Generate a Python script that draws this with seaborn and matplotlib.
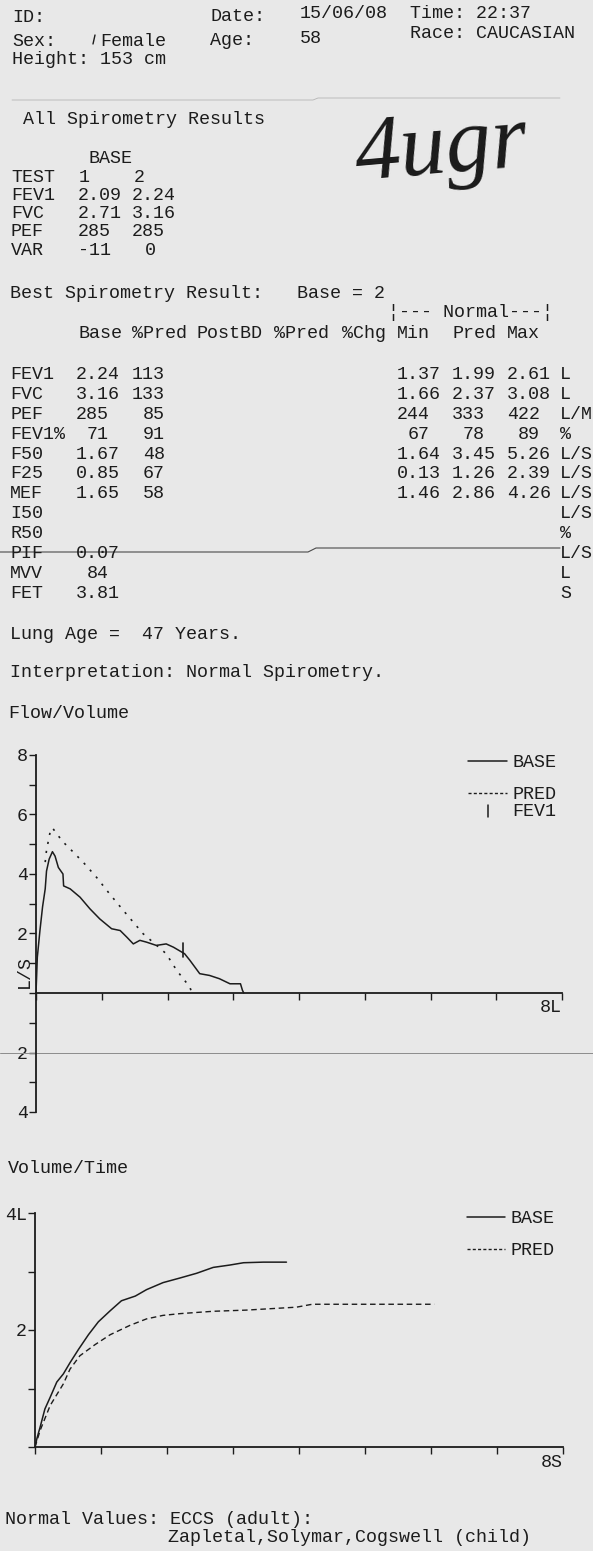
import numpy as np
import pandas as pd
import matplotlib
matplotlib.use("Agg")
import matplotlib.pyplot as plt
from matplotlib.transforms import blended_transform_factory
import seaborn as sns

# ------------------------------------------------------------------ report data
patient = {"date": "15/06/08", "time": "22:37", "sex": "Female", "age": "58",
           "race": "CAUCASIAN", "height": "153 cm"}

trial_rows = ["TEST", "FEV1", "FVC", "PEF", "VAR"]
trial_1 = ["1", "2.09", "2.71", "285", "-11"]
trial_2 = ["2", "2.24", "3.16", "285", "0"]

params = ["FEV1", "FVC", "PEF", "FEV1%", "F50", "F25", "MEF",
          "I50", "R50", "PIF", "MVV", "FET"]
base_vals = ["2.24", "3.16", "285", "71", "1.67", "0.85", "1.65",
             "", "", "0.07", "84", "3.81"]
base_pct_pred = ["113", "133", "85", "91", "48", "67", "58", "", "", "", "", ""]
normal_min = ["1.37", "1.66", "244", "67", "1.64", "0.13", "1.46", "", "", "", "", ""]
normal_pred = ["1.99", "2.37", "333", "78", "3.45", "1.26", "2.86", "", "", "", "", ""]
normal_max = ["2.61", "3.08", "422", "89", "5.26", "2.39", "4.26", "", "", "", "", ""]
units = ["L", "L", "L/M", "%", "L/S", "L/S", "L/S", "L/S", "%", "L/S", "L", "S"]

lung_age = 47
interpretation = "Normal Spirometry."

# flow / volume loop (L, L/s)
fv_base_volume = [0.00, 0.01, 0.02, 0.06, 0.10, 0.14, 0.16, 0.20, 0.25, 0.29, 0.34,
                  0.41, 0.42, 0.52, 0.67, 0.82, 0.97, 1.15, 1.28, 1.38, 1.48, 1.58,
                  1.68, 1.83, 1.98, 2.09, 2.26, 2.34, 2.49, 2.64, 2.79, 2.95, 3.11,
                  3.14, 3.16]
fv_base_flow = [0.00, 0.59, 1.20, 2.10, 2.90, 3.50, 4.10, 4.50, 4.75, 4.60, 4.22,
                4.00, 3.60, 3.50, 3.22, 2.83, 2.49, 2.16, 2.10, 1.88, 1.65, 1.77,
                1.71, 1.60, 1.65, 1.54, 1.32, 1.10, 0.65, 0.59, 0.48, 0.31, 0.31,
                0.09, 0.00]
fv_pred_volume = [0.14, 0.16, 0.22, 0.25, 0.34, 0.42, 0.52, 0.72, 0.92, 1.12, 1.33,
                  1.48, 1.63, 1.81, 1.98, 2.14, 2.34, 2.37]
fv_pred_flow = [4.40, 4.80, 5.47, 5.55, 5.28, 5.06, 4.84, 4.39, 3.89, 3.33, 2.77,
                2.38, 1.99, 1.65, 1.32, 0.76, 0.20, 0.00]
fev1_volume = 2.24

# volume / time curve (s, L)
vt_base_time = [0.00, 0.03, 0.08, 0.15, 0.23, 0.33, 0.43, 0.53, 0.66, 0.81, 0.96,
                1.14, 1.31, 1.52, 1.69, 1.94, 2.20, 2.45, 2.70, 2.95, 3.16, 3.46, 3.81]
vt_base_volume = [0.00, 0.15, 0.35, 0.65, 0.85, 1.11, 1.25, 1.44, 1.67, 1.92, 2.14,
                  2.33, 2.50, 2.58, 2.69, 2.81, 2.89, 2.97, 3.07, 3.11, 3.15, 3.16, 3.16]
vt_pred_time = [0.00, 0.08, 0.23, 0.43, 0.53, 0.68, 0.91, 1.14, 1.44, 1.69, 1.94,
                2.20, 2.70, 3.20, 3.96, 4.20, 6.05]
vt_pred_volume = [0.00, 0.29, 0.71, 1.08, 1.33, 1.56, 1.75, 1.92, 2.08, 2.19, 2.25,
                  2.28, 2.32, 2.34, 2.39, 2.44, 2.44]

# ------------------------------------------------------------------ page setup
W, H, DPI = 593, 1551, 100
PAPER = "#e8e8e8"
INK = "#1c1c1c"
FS = 13.2

sns.set_theme(style="ticks")
plt.rcParams["font.family"] = ["Liberation Mono", "DejaVu Sans Mono"]
plt.rcParams["axes.unicode_minus"] = False

fig = plt.figure(figsize=(W / DPI, H / DPI), dpi=DPI, facecolor=PAPER)
page = fig.add_axes([0, 0, 1, 1], zorder=0)
page.set_xlim(0, W)
page.set_ylim(H, 0)
page.axis("off")


def put(s, x, y, ha="left", **kw):
    """Printer text; y is the vertical centre of the capitals in pixels."""
    kw.setdefault("fontsize", FS)
    kw.setdefault("color", INK)
    page.text(x, y + 6, s, ha=ha, va="baseline", **kw)


# header block
put("ID:", 12, 16)
put("Sex:", 12, 40)
put(patient["sex"], 100, 40)
page.plot([95, 93], [35, 44], color=INK, lw=1.0)
put("Height: " + patient["height"], 12, 58)
put("Date:", 210, 15)
put(patient["date"], 300, 12)
put("Time: " + patient["time"], 410, 12)
put("Age:", 210, 39)
put(patient["age"], 300, 37)
put("Race: " + patient["race"], 410, 32)
page.plot([12, 313, 318, 560], [100, 100, 98, 98], color="#b4b4b4", lw=0.6)

# all trials
put("All Spirometry Results", 23, 118)
put("BASE", 88, 157)
trial_y = [176, 194, 212, 230, 249]
for lab, v1, v2, y in zip(trial_rows, trial_1, trial_2, trial_y):
    put(lab, 11, y)
    x1 = 78 if "." in v1 or len(v1) == 3 else (66 if v1.startswith("-") else 79)
    x2 = 132 if "." in v2 or len(v2) == 3 else (145 if v2 == "0" else 134)
    put(v1, x1, y)
    put(v2, x2, y)

# handwritten note
page.text(352, 180, "4ugr", fontfamily=["Liberation Serif"], style="italic",
          fontsize=66, color="#1a1a1a", va="baseline", rotation=5)

# best result table
put("Best Spirometry Result:", 10, 292)
put("Base = 2", 297, 292)
put("\u00a6--- Normal---\u00a6", 388, 311)
header = [("Base", 78), ("%Pred", 132), ("PostBD", 197), ("%Pred", 274),
          ("%Chg", 342), ("Min", 397), ("Pred", 452), ("Max", 507)]
for s, x in header:
    put(s, x, 332)

CH = 10.9


def put_num(s, col_x, y):
    if not s:
        return
    if "." in s:
        put(s, col_x, y)
    else:
        put(s, col_x + 3 * CH, y, ha="right")


for i, p in enumerate(params):
    y = 373 + 19.9 * i
    put(p, 10, y)
    put_num(base_vals[i], 76, y)
    if base_pct_pred[i]:
        put(base_pct_pred[i], 165, y, ha="right")
    put_num(normal_min[i], 397, y)
    put_num(normal_pred[i], 452, y)
    put_num(normal_max[i], 507, y)
    put(units[i], 560, y)
page.plot([0, 308, 316, 560], [552, 552, 548, 548], color="#4a4a4a", lw=0.8)

put(f"Lung Age =  {lung_age} Years.", 10, 633)
put("Interpretation: " + interpretation, 10, 671)
put("Flow/Volume", 8, 712)
put("Volume/Time", 8, 1167)
put("Normal Values: ECCS (adult):", 5, 1518)
put("Zapletal,Solymar,Cogswell (child)", 168, 1536)


# ------------------------------------------------------------------ charts
def px_axes(left, right, top, bottom):
    ax = fig.add_axes([left / W, 1 - bottom / H, (right - left) / W, (bottom - top) / H],
                      zorder=1)
    ax.set_facecolor("none")
    for side in ("top", "right"):
        ax.spines[side].set_visible(False)
    for side in ("left", "bottom"):
        ax.spines[side].set_color(INK)
        ax.spines[side].set_linewidth(1.3)
    ax.tick_params(axis="both", direction="out", length=5, width=1.0, color=INK,
                   labelsize=FS, labelcolor=INK, pad=1, left=True, bottom=True)
    return ax


# flow / volume
ax_fv = px_axes(36, 562, 755, 1112)
fv_base = pd.DataFrame({"volume": fv_base_volume, "flow": fv_base_flow})
fv_pred = pd.DataFrame({"volume": fv_pred_volume, "flow": fv_pred_flow})
sns.lineplot(data=fv_base, x="volume", y="flow", sort=False, estimator=None,
             color=INK, lw=1.1, ax=ax_fv)
sns.lineplot(data=fv_pred, x="volume", y="flow", sort=False, estimator=None,
             color=INK, lw=1.2, linestyle=(0, (1.3, 4.2)), ax=ax_fv)
fev1_flow = float(np.interp(fev1_volume, fv_base_volume, fv_base_flow))
ax_fv.plot([fev1_volume, fev1_volume], [fev1_flow - 0.15, fev1_flow + 0.35],
           color=INK, lw=1.2)
ax_fv.set_xlim(0, 8)
ax_fv.set_ylim(-4, 8)
ax_fv.spines["bottom"].set_position(("data", 0))
ax_fv.spines["left"].set_bounds(-4, 8)
ax_fv.set_xticks(range(0, 9))
ax_fv.set_xticklabels([""] * 9)
fv_yt = list(range(-4, 9))
fv_lab = {8: "8", 6: "6", 4: "4", 2: "2", -2: "2", -4: "4"}
ax_fv.set_yticks(fv_yt)
ax_fv.set_yticklabels([fv_lab.get(v, "") for v in fv_yt])
ax_fv.set_xlabel("")
ax_fv.set_ylabel("")
ax_fv.text(8, -0.5, "8L", ha="right", va="center", fontsize=FS, color=INK)
ax_fv.text(-0.17, 0.72, "L/S", rotation=90, ha="center", va="center",
           fontsize=FS, color=INK)
# faint scan line through the -2 level
ax_fv.plot([0, 1], [-2, -2], transform=blended_transform_factory(fig.transFigure, ax_fv.transData),
           color="#8c8c8c", lw=0.7, clip_on=False)

# flow/volume key
page.plot([468, 507], [761, 761], color=INK, lw=1.1)
put("BASE", 512, 761)
page.plot([468, 507], [793, 793], color=INK, lw=1.0, linestyle=(0, (2.2, 1.6)))
put("PRED", 512, 793)
page.plot([488, 488], [805, 817], color=INK, lw=1.1)
put("FEV1", 512, 810)

# volume / time
ax_vt = px_axes(35, 563, 1213, 1447)
vt_base = pd.DataFrame({"time": vt_base_time, "volume": vt_base_volume})
vt_pred = pd.DataFrame({"time": vt_pred_time, "volume": vt_pred_volume})
sns.lineplot(data=vt_base, x="time", y="volume", sort=False, estimator=None,
             color=INK, lw=1.1, ax=ax_vt)
sns.lineplot(data=vt_pred, x="time", y="volume", sort=False, estimator=None,
             color=INK, lw=1.0, linestyle=(0, (4.0, 2.6)), ax=ax_vt)
ax_vt.set_xlim(0, 8)
ax_vt.set_ylim(0, 4)
ax_vt.set_xticks(range(0, 9))
ax_vt.set_xticklabels([""] * 9)
ax_vt.set_yticks(range(0, 5))
ax_vt.set_yticklabels(["", "", "2", "", "4L"])
ax_vt.set_xlabel("")
ax_vt.set_ylabel("")
ax_vt.text(8, -0.27, "8S", ha="right", va="center", fontsize=FS, color=INK)

# volume/time key
page.plot([467, 505], [1217, 1217], color=INK, lw=1.1)
put("BASE", 511, 1217)
page.plot([467, 505], [1249, 1249], color=INK, lw=1.0, linestyle=(0, (2.2, 1.6)))
put("PRED", 511, 1249)

fig.savefig("out.png", dpi=DPI, facecolor=PAPER)
